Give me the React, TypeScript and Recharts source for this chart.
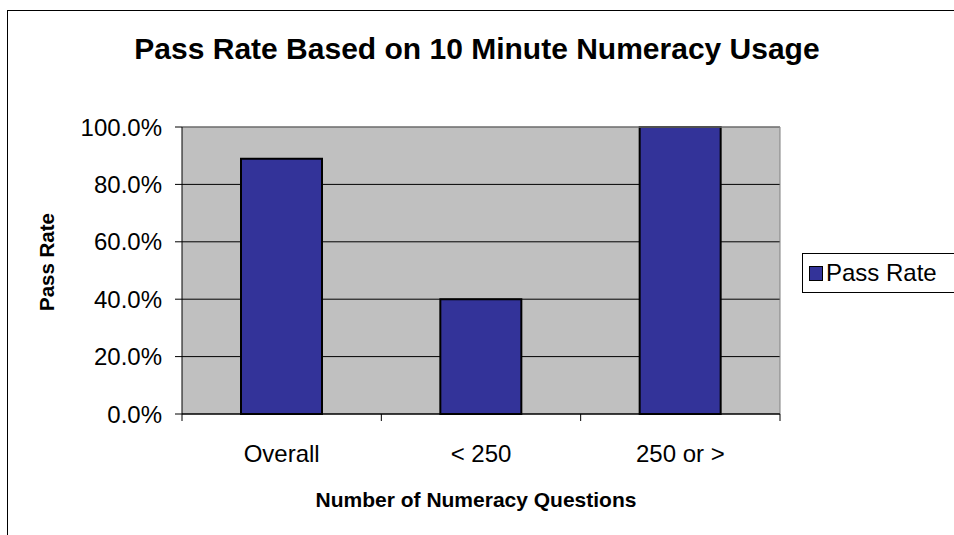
import React from 'react';
import {
  BarChart,
  Bar,
  XAxis,
  YAxis,
  CartesianGrid,
  ReferenceLine,
} from 'recharts';

const categories = ['Overall', '< 250', '250 or >'];
const passRates = [0.889, 0.4, 1.0];
const yTicks = [0, 0.2, 0.4, 0.6, 0.8, 1.0];
const seriesName = 'Pass Rate';

const FONT = '"Liberation Sans", Arial, sans-serif';
const W = 954;
const H = 535;
const PLOT_LEFT = 182;
const PLOT_RIGHT = 780;
const PLOT_TOP = 127;
const PLOT_BOTTOM = 414;
const Y_AXIS_W = 100;
const X_AXIS_H = 60;
const BAND = (PLOT_RIGHT - PLOT_LEFT) / categories.length;
const BAR_FILL = '#333399';

const data = categories.map((name, i) => ({ name, rate: passRates[i] }));

const fmtPct = (v: number) => `${(v * 100).toFixed(1)}%`;

// category ticks sit between the bars, like the original spreadsheet chart
function CategoryTick(props: any) {
  const { x, y, payload, index } = props;
  const half = BAND / 2;
  return (
    <g>
      <line x1={x - half} y1={y} x2={x - half} y2={y + 7} stroke="#000" />
      {index === categories.length - 1 && (
        <line x1={x + half} y1={y} x2={x + half} y2={y + 7} stroke="#000" />
      )}
      <text x={x} y={y + 48} textAnchor="middle" fontSize={24} fontFamily={FONT} fill="#000">
        {payload.value}
      </text>
    </g>
  );
}

function LegendBox() {
  return (
    <div
      style={{
        position: 'absolute',
        left: 802,
        top: 253,
        width: 170,
        height: 40,
        border: '1px solid #000',
        background: '#fff',
        display: 'flex',
        alignItems: 'center',
        fontFamily: FONT,
        fontSize: 24,
        color: '#000',
        boxSizing: 'border-box',
      }}
    >
      <span
        style={{
          display: 'inline-block',
          width: 12,
          height: 13,
          background: BAR_FILL,
          border: '1px solid #000',
          marginLeft: 6,
          marginRight: 3,
        }}
      />
      {seriesName}
    </div>
  );
}

export default function App() {
  return (
    <div style={{ position: 'fixed', left: 0, top: 0, width: W, height: H, background: '#fff', overflow: 'hidden' }}>
      <div
        style={{
          position: 'absolute',
          left: 7,
          top: 10,
          width: W,
          height: H,
          borderLeft: '1px solid #000',
          borderTop: '1px solid #000',
        }}
      />
      <div
        style={{
          position: 'absolute',
          left: 477 - 400,
          width: 800,
          top: 34,
          textAlign: 'center',
          fontFamily: FONT,
          fontWeight: 'bold',
          fontSize: 30,
          lineHeight: '30px',
          color: '#000',
        }}
      >
        Pass Rate Based on 10 Minute Numeracy Usage
      </div>
      <div
        style={{
          position: 'absolute',
          left: 476 - 300,
          width: 600,
          top: 488,
          textAlign: 'center',
          fontFamily: FONT,
          fontWeight: 'bold',
          fontSize: 21,
          lineHeight: '24px',
          color: '#000',
        }}
      >
        Number of Numeracy Questions
      </div>
      <div
        style={{
          position: 'absolute',
          left: 47,
          top: 262,
          transform: 'translate(-50%, -50%) rotate(-90deg)',
          fontFamily: FONT,
          fontWeight: 'bold',
          fontSize: 20.5,
          color: '#000',
          whiteSpace: 'nowrap',
        }}
      >
        Pass Rate
      </div>
      <div style={{ position: 'absolute', left: 0, top: 0 }}>
        <BarChart
          width={W}
          height={H}
          data={data}
          margin={{
            top: PLOT_TOP,
            right: W - PLOT_RIGHT,
            bottom: H - PLOT_BOTTOM - X_AXIS_H,
            left: PLOT_LEFT - Y_AXIS_W,
          }}
        >
          <CartesianGrid
            vertical={false}
            stroke="#000"
            fill="#C0C0C0"
            fillOpacity={1}
          />
          <CartesianGrid
            horizontal={false}
            stroke="#808080"
            verticalCoordinatesGenerator={({ offset }: any) => [offset.left + offset.width]}
          />
          <ReferenceLine y={1} stroke="#A0A0A0" />
          <XAxis
            dataKey="name"
            height={X_AXIS_H}
            axisLine={{ stroke: '#000' }}
            tickLine={false}
            tickSize={0}
            tickMargin={0}
            tick={<CategoryTick />}
            interval={0}
          />
          <YAxis
            width={Y_AXIS_W}
            domain={[0, 1]}
            ticks={yTicks}
            tickFormatter={fmtPct}
            axisLine={{ stroke: '#000' }}
            tickLine={{ stroke: '#000' }}
            tickSize={7}
            tickMargin={13}
            tick={{ fontSize: 24, fontFamily: FONT, fill: '#000' }}
          />
          <Bar
            dataKey="rate"
            name={seriesName}
            fill={BAR_FILL}
            stroke="#000"
            strokeWidth={2}
            barSize={81}
            isAnimationActive={false}
          />
        </BarChart>
      </div>
      <LegendBox />
    </div>
  );
}
